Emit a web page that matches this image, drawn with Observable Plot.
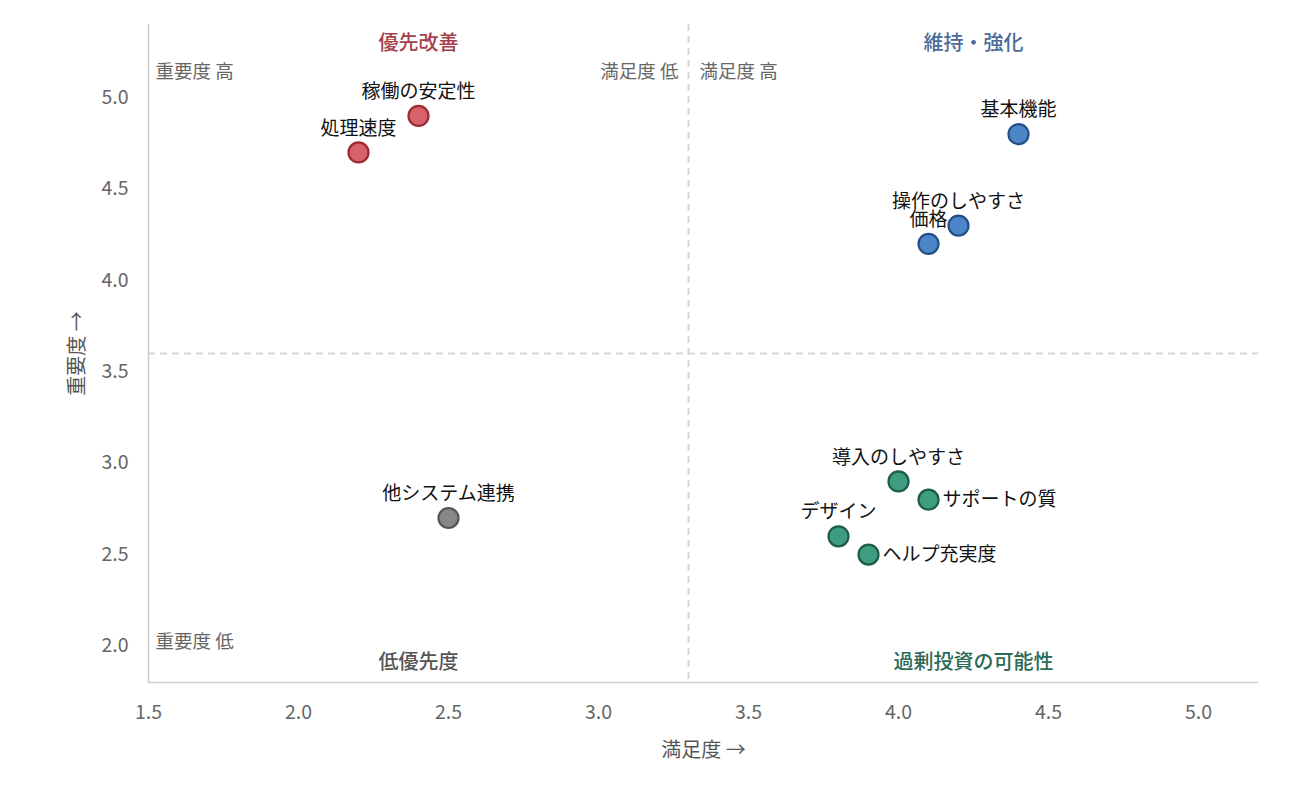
<!DOCTYPE html>
<html><head><meta charset="utf-8">
<script src="https://cdn.jsdelivr.net/npm/d3@7"></script>
<script src="https://cdn.jsdelivr.net/npm/@observablehq/plot@0.6"></script>
<style>
html,body{margin:0;padding:0;background:#fff;}
#chart svg{display:block;font-family:"Noto Sans CJK JP","Noto Sans",sans-serif;}
</style></head>
<body><div id="chart"></div>
<script>
const items = ["稼働の安定性","処理速度","基本機能","操作のしやすさ","価格","他システム連携","導入のしやすさ","サポートの質","デザイン","ヘルプ充実度"];
const satisfaction = [2.4, 2.2, 4.4, 4.2, 4.1, 2.5, 4.0, 4.1, 3.8, 3.9];
const importance = [4.9, 4.7, 4.8, 4.3, 4.2, 2.7, 2.9, 2.8, 2.6, 2.5];
const groups = ["改善","改善","維持","維持","維持","低","過剰","過剰","過剰","過剰"];
const rightLabeled = ["サポートの質","ヘルプ充実度"];
const xTicks = [1.5,2.0,2.5,3.0,3.5,4.0,4.5,5.0];
const yTicks = [2.0,2.5,3.0,3.5,4.0,4.5,5.0];
const xDomain = [1.5, 5.2];
const yDomain = [1.8, 5.4];
const xSplit = 3.3;
const ySplit = 3.6;
const xLabel = "満足度 →";
const yLabel = "重要度 →";
const quadrantTitles = ["優先改善","維持・強化","低優先度","過剰投資の可能性"];
const cornerLabels = ["重要度 高","満足度 低","満足度 高","重要度 低"];

const fillColor = {"改善":"#d8626a","維持":"#4c86c8","低":"#878787","過剰":"#3e9d80"};
const strokeColor = {"改善":"#9c2b35","維持":"#244f86","低":"#555555","過剰":"#1f5c47"};
const titleColor = ["#a4404c","#4a6a98","#555555","#2b6a55"];

const data = items.map((name,i)=>({name, x:satisfaction[i], y:importance[i], g:groups[i]}));
const aboveData = data.filter(d=>!rightLabeled.includes(d.name));
const rightData = data.filter(d=>rightLabeled.includes(d.name));

const qTitles = [
  {t:quadrantTitles[0], x:(xDomain[0]+xSplit)/2, pos:"top", c:titleColor[0]},
  {t:quadrantTitles[1], x:(xSplit+xDomain[1])/2, pos:"top", c:titleColor[1]},
  {t:quadrantTitles[2], x:(xDomain[0]+xSplit)/2, pos:"bottom", c:titleColor[2]},
  {t:quadrantTitles[3], x:(xSplit+xDomain[1])/2, pos:"bottom", c:titleColor[3]}
];

const chart = Plot.plot({
  width: 1300,
  height: 791,
  marginLeft: 148,
  marginRight: 42,
  marginTop: 24,
  marginBottom: 109,
  style: {fontFamily:'"Noto Sans CJK JP","Noto Sans",sans-serif', background:"#fff", fontSize:"18px"},
  x: {domain: xDomain},
  y: {domain: yDomain},
  marks: [
    Plot.ruleX([xSplit], {stroke:"#d8d8d8", strokeWidth:2, strokeDasharray:"7,5"}),
    Plot.ruleY([ySplit], {stroke:"#d8d8d8", strokeWidth:2, strokeDasharray:"7,5"}),
    Plot.ruleX([xDomain[0]], {stroke:"#cccccc", strokeWidth:1.5}),
    Plot.ruleY([yDomain[0]], {stroke:"#cccccc", strokeWidth:1.5}),
    Plot.axisX({ticks:xTicks, tickSize:0, tickPadding:23, fontSize:19.5, color:"#666", tickFormat:d=>d.toFixed(1), label:null}),
    Plot.axisY({ticks:yTicks, tickSize:0, tickPadding:20, fontSize:19.5, color:"#666", tickFormat:d=>d.toFixed(1), label:null}),
    Plot.text([xLabel], {frameAnchor:"bottom", textAnchor:"middle", lineAnchor:"middle", dy:68, fill:"#555", fontSize:20}),
    Plot.text([yLabel], {frameAnchor:"left", textAnchor:"middle", lineAnchor:"middle", rotate:-90, dx:-71, fill:"#555", fontSize:20}),
    Plot.text(qTitles.filter(d=>d.pos==="top"), {x:"x", frameAnchor:"top", dy:11, text:"t", fill:"c", fontSize:20, fontWeight:500}),
    Plot.text(qTitles.filter(d=>d.pos==="bottom"), {x:"x", frameAnchor:"bottom", dy:-14, text:"t", fill:"c", fontSize:20, fontWeight:500}),
    Plot.text([cornerLabels[0]], {x:xDomain[0], frameAnchor:"top", dy:40, dx:7, textAnchor:"start", fill:"#666", fontSize:18.5}),
    Plot.text([cornerLabels[1]], {x:xSplit, frameAnchor:"top", dy:40, dx:-10, textAnchor:"end", fill:"#666", fontSize:18.5}),
    Plot.text([cornerLabels[2]], {x:xSplit, frameAnchor:"top", dy:40, dx:11, textAnchor:"start", fill:"#666", fontSize:18.5}),
    Plot.text([cornerLabels[3]], {x:xDomain[0], frameAnchor:"bottom", dy:-35, dx:7, textAnchor:"start", fill:"#666", fontSize:18.5}),
    Plot.dot(data, {x:"x", y:"y", r:10, fill:d=>fillColor[d.g], stroke:d=>strokeColor[d.g], strokeWidth:2.2}),
    Plot.text(aboveData, {x:"x", y:"y", text:"name", dy:-24, fill:"#111", fontSize:19}),
    Plot.text(rightData, {x:"x", y:"y", text:"name", dx:14, textAnchor:"start", fill:"#111", fontSize:19})
  ]
});
document.getElementById("chart").appendChild(chart);
</script>
</body></html>
